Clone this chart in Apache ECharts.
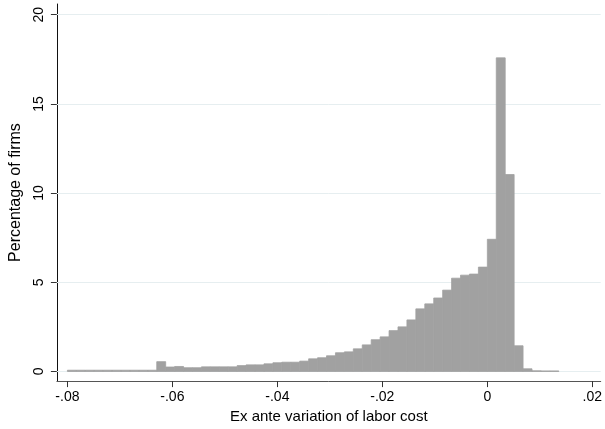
<!DOCTYPE html>
<html>
<head>
<meta charset="utf-8">
<script src="https://cdn.jsdelivr.net/npm/echarts@6/dist/echarts.min.js"></script>
<style>
html,body{margin:0;padding:0;background:#fff;}
#chart{width:605px;height:429px;}
</style>
</head>
<body>
<div id="chart"></div>
<script>
// Histogram: bins start at -0.08, equal width
var binStart = -0.08;
var binWidth = 0.08 / 47;
var percentOfFirms = [
  0.07, 0.07, 0.07, 0.07, 0.07, 0.07, 0.07, 0.07, 0.07, 0.07,
  0.55, 0.25, 0.28, 0.21, 0.21, 0.26, 0.26, 0.26, 0.26, 0.33,
  0.37, 0.37, 0.43, 0.49, 0.52, 0.52, 0.58, 0.71, 0.77, 0.88,
  1.05, 1.10, 1.27, 1.49, 1.78, 1.94, 2.29, 2.50, 2.89, 3.51,
  3.79, 4.12, 4.56, 5.23, 5.40, 5.46, 5.85, 7.41, 17.58, 11.04,
  1.44, 0.15, 0.04, 0.03, 0.03
];
var xTickValues = [-0.08, -0.06, -0.04, -0.02, 0, 0.02];
var xTickLabels = ['-.08', '-.06', '-.04', '-.02', '0', '.02'];
var yTickValues = [0, 5, 10, 15, 20];
var yTickLabels = ['0', '5', '10', '15', '20'];
var xTitle = 'Ex ante variation of labor cost';
var yTitle = 'Percentage of firms';

var barData = percentOfFirms.map(function (v, k) {
  return [binStart + k * binWidth, binStart + (k + 1) * binWidth, v];
});

var font = "'Liberation Sans', Arial, sans-serif";
var chart = echarts.init(document.getElementById('chart'), null, {renderer: 'canvas'});
chart.setOption({
  backgroundColor: '#ffffff',
  animation: false,
  grid: {left: 54, right: 3, top: 4, bottom: 47, containLabel: false},
  xAxis: {
    type: 'value',
    min: -0.082, max: 0.0216,
    axisLine: {show: true, onZero: false, lineStyle: {color: '#555', width: 1}},
    axisTick: {show: true, length: 6, lineStyle: {color: '#333'}, customValues: xTickValues},
    axisLabel: {
      show: true, customValues: xTickValues, margin: 9,
      fontFamily: font, fontSize: 14, color: '#000',
      formatter: function (v) {
        var i = xTickValues.findIndex(function (t) { return Math.abs(t - v) < 1e-9; });
        return i >= 0 ? xTickLabels[i] : '';
      }
    },
    splitLine: {show: false},
    name: xTitle, nameLocation: 'middle', nameGap: 27,
    nameTextStyle: {fontFamily: font, fontSize: 15, color: '#000'}
  },
  yAxis: {
    type: 'value',
    min: -0.54, max: 20.6,
    axisLine: {show: true, onZero: false, lineStyle: {color: '#111', width: 1}},
    axisTick: {show: true, length: 6, lineStyle: {color: '#333'}, customValues: yTickValues},
    axisLabel: {
      show: true, customValues: yTickValues, rotate: 90, margin: 11,
      fontFamily: font, fontSize: 14, color: '#000',
      formatter: function (v) {
        var i = yTickValues.findIndex(function (t) { return Math.abs(t - v) < 1e-9; });
        return i >= 0 ? yTickLabels[i] : '';
      }
    },
    splitLine: {show: false},
    name: yTitle, nameLocation: 'middle', nameGap: 27, nameRotate: 90,
    nameTextStyle: {fontFamily: font, fontSize: 16, color: '#000'}
  },
  series: [{
    type: 'custom',
    z: 2,
    encode: {x: [0, 1], y: 2},
    data: barData,
    renderItem: function (params, api) {
      var p0 = api.coord([api.value(0), api.value(2)]);
      var p1 = api.coord([api.value(1), 0]);
      return {
        type: 'rect',
        shape: {x: p0[0], y: p0[1], width: p1[0] - p0[0], height: p1[1] - p0[1]},
        style: {fill: '#a1a1a1', stroke: '#a1a1a1', lineWidth: 0.8}
      };
    },
    markLine: {
      silent: true, symbol: ['none', 'none'], z: 1,
      label: {show: false},
      lineStyle: {color: '#e6eef0', width: 1, type: 'solid'},
      data: yTickValues.map(function (v) { return {yAxis: v}; })
    }
  }]
});
</script>
</body>
</html>
